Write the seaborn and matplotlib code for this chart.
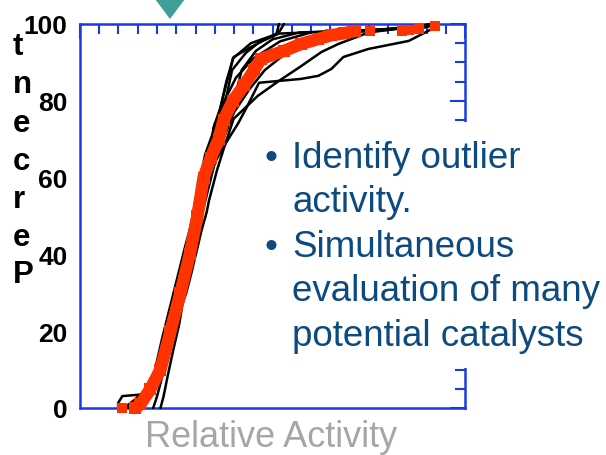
import matplotlib
matplotlib.use("Agg")
import matplotlib.pyplot as plt
import seaborn as sns
import pandas as pd
from matplotlib.ticker import MultipleLocator
from matplotlib.patches import Rectangle, Polygon

# ---------------- data (x: relative activity 0-100, y: percent) ----------------
curve_a_x = [9.9, 9.9, 11.0, 17.0, 18.5, 19.6, 20.2, 21.4, 22.0, 23.4, 24.0, 25.6, 26.0, 27.5, 28.0, 29.8, 30.0, 31.0, 31.3, 32.9, 33.2, 34.2, 34.7, 36.4, 37.9, 39.0, 39.7, 44.4, 51.4, 62.0, 78.0, 90.0, 92.2]
curve_a_y = [0, 1.3, 3.1, 3.6, 5.5, 7.5, 10, 13, 18, 21, 26, 29, 34, 37, 42, 45, 50, 53, 58, 61, 65, 68, 73, 78, 84, 88, 91, 95, 97.5, 97.9, 98.5, 99.2, 100]
curve_b_x = [13.5, 15.5, 18.0, 20.5, 21.0, 22.5, 23.8, 24.5, 25.5, 26.5, 27.8, 28.5, 29.6, 30.3, 31.4, 32.0, 33.6, 34.0, 36.5, 39.5, 43.1, 47.0, 51.0, 51.7]
curve_b_y = [0, 3, 6, 10, 14, 18, 23, 26, 31, 34, 39, 42, 47, 50, 55, 58, 62, 65, 74, 88, 92.5, 95.6, 97.4, 100]
curve_c_x = [14.5, 17.5, 19.5, 21.5, 22.2, 23.0, 24.4, 25.0, 26.3, 27.0, 28.3, 29.0, 30.5, 31.0, 32.0, 32.6, 35.2, 38.0, 40.5, 42.0, 45.7, 50.0, 57.0, 70.0, 90.0, 92.2]
curve_c_y = [0, 2, 5, 10, 15, 18, 23, 26, 31, 34, 38, 42, 46, 50, 55, 58, 65, 74, 82, 88, 93, 96, 97.8, 98.2, 99.2, 100]
curve_d_x = [20.9, 21.7, 22.7, 24.2, 25.8, 26.6, 27.6, 28.9, 29.6, 30.8, 31.5, 32.9, 33.5, 35.6, 37.8, 39.9, 46.2, 51.4, 57.4, 62.7, 67.1, 75.0, 92.2]
curve_d_y = [0, 3, 8, 15, 22, 27, 30, 35, 38, 43, 46, 51, 54, 62, 69, 75.3, 81.3, 85, 89, 92.7, 94.8, 97.8, 100]
curve_e_x = [16.0, 18.5, 20.5, 22.5, 24.5, 26.5, 28.3, 30.5, 32.5, 35.0, 38.5, 41.0, 43.1, 46.5, 57.4, 61.9, 65.3, 68.4, 74.9, 85.4, 91.4, 92.2]
curve_e_y = [0, 3, 7, 14, 22, 30, 38, 47, 56, 64, 70, 74, 77.9, 84.7, 85.7, 86.5, 88.3, 91.4, 93.5, 95.6, 98.7, 100]
curve_f_x = [12.5, 15.0, 18.0, 20.0, 21.4, 22.0, 23.6, 24.2, 25.7, 26.3, 27.6, 28.3, 29.4, 30.0, 31.6, 33.5, 36.0, 38.0, 39.9, 44.4, 47.5, 51.4, 53.0]
curve_f_y = [0, 2.5, 6, 10, 15, 18, 23, 26, 31, 34, 39, 42, 47, 50, 58, 66, 76, 85, 91.4, 94, 95.6, 97.4, 100]
curve_g_x = [19.0, 20.0, 21.3, 23.0, 24.8, 26.8, 28.8, 30.8, 32.8, 34.8, 37.2, 40.0, 44.0, 48.0, 53.0, 60.0, 70.0, 80.0, 92.2]
curve_g_y = [0, 3, 8, 15, 23, 31, 39, 47, 55, 63, 70, 77, 83, 88, 92, 95.5, 97.8, 98.5, 100]
curve_h_x = [11.5, 14.0, 17.5, 19.5, 21.3, 23.3, 25.3, 27.3, 28.4, 29.3, 30.2, 30.8, 31.9, 32.5, 34.3, 35.0, 36.9, 37.5, 40.5, 45.0, 52.0, 60.0, 78.0, 92.2]
curve_h_y = [0, 2, 5, 10, 18, 26, 34, 42, 46, 50, 55, 58, 63, 66, 71, 74, 78, 80, 86, 91, 95.5, 97.8, 98.5, 100]

red_band_x = [14.4, 15.7, 18.3, 20.9, 23.5, 26.1, 28.5, 30.5, 32.1, 33.9, 36.0, 37.3, 39.7, 42.6, 45.2, 47.0, 53.0, 57.4, 61.9, 65.3, 68.7, 71.3]
red_band_y = [0, 1, 5, 10, 20, 30, 40, 50, 60, 65, 70, 75, 80, 84, 88, 90.9, 93, 94.8, 96.1, 97.1, 97.6, 98.2]
red_dots_x = [11.0, 75.2, 83.6, 85.4, 88.0, 92.2]
red_dots_y = [0, 98.1, 98.1, 98.5, 98.7, 99.4]

y_ticks = [0, 20, 40, 60, 80, 100]
y_label_word = "Percent"
x_label = "Relative Activity"
bullet_lines = ["Identify outlier", "activity.", "Simultaneous", "evaluation of many", "potential catalysts"]
bullet_starts = [True, False, True, False, False]

# ---------------- style ----------------
sns.set_style("white")
plt.rcParams["font.family"] = ["Liberation Sans", "DejaVu Sans"]

BLUE = "#1a3be0"
RED = "#ff3300"
TEXT_BLUE = "#0d4a80"
GRAY = "#a6a6a6"

W, H = 606, 456
fig = plt.figure(figsize=(W / 100, H / 100), dpi=100)
ax = fig.add_axes([80 / W, 47 / H, 385 / W, 384 / H])

curves = [(curve_a_x, curve_a_y), (curve_b_x, curve_b_y), (curve_c_x, curve_c_y),
          (curve_d_x, curve_d_y), (curve_e_x, curve_e_y), (curve_f_x, curve_f_y),
          (curve_g_x, curve_g_y), (curve_h_x, curve_h_y)]
rows = []
for i, (xs, ys) in enumerate(curves):
    for k, (xv, yv) in enumerate(zip(xs, ys)):
        rows.append({"x": xv, "y": yv, "curve": i, "order": k})
black_df = pd.DataFrame(rows)

sns.lineplot(data=black_df, x="x", y="y", units="curve", estimator=None, sort=False,
             color="black", linewidth=1.8, ax=ax, clip_on=False, zorder=3)

red_df = pd.DataFrame({"x": red_band_x, "y": red_band_y})
sns.lineplot(data=red_df, x="x", y="y", estimator=None, sort=False, color=RED,
             linewidth=9, marker="s", markersize=8, markeredgewidth=0,
             ax=ax, clip_on=False, zorder=4)
dots_df = pd.DataFrame({"x": red_dots_x, "y": red_dots_y})
sns.scatterplot(data=dots_df, x="x", y="y", color=RED, marker="s", s=50,
                linewidth=0, ax=ax, clip_on=False, zorder=4)

ax.set_xlim(0, 100)
ax.set_ylim(0, 100)
ax.set_xlabel("")
ax.set_ylabel("")
ax.xaxis.set_major_locator(MultipleLocator(50))
ax.xaxis.set_minor_locator(MultipleLocator(5))
ax.set_yticks(y_ticks)
ax.yaxis.set_minor_locator(MultipleLocator(5))
ax.set_yticklabels([str(v) for v in y_ticks], fontsize=19, fontweight="bold", color="black")
ax.tick_params(which="both", direction="in", top=True, right=True, color=BLUE, width=1.5,
               labelbottom=False)
ax.tick_params(which="major", length=11, pad=9)
ax.tick_params(which="minor", length=7)
for sp in ax.spines.values():
    sp.set_color(BLUE)
    sp.set_linewidth(1.8)
ax.set_facecolor("white")
ax.grid(False)

# white text panel covering part of the right spine
fig.add_artist(Rectangle((255 / W, (H - 369) / H), (W - 255) / W, 246 / H,
                         transform=fig.transFigure, facecolor="white", edgecolor="none", zorder=10))

baselines = [168, 212.5, 257, 301.5, 346]
for line, is_start, b in zip(bullet_lines, bullet_starts, baselines):
    fig.text(292 / W, (H - b) / H, line, ha="left", va="baseline", fontsize=26.5,
             color=TEXT_BLUE, zorder=11)
    if is_start:
        fig.text(264 / W, (H - b) / H, "\u2022", ha="left", va="baseline", fontsize=26.5,
                 color=TEXT_BLUE, zorder=11)

# stacked y label
letter_baselines = [55, 93, 132, 170, 208, 246, 283]
for ch, b in zip(reversed(y_label_word), letter_baselines):
    fig.text(13 / W, (H - b) / H, ch, ha="left", va="baseline", fontsize=22.5,
             fontweight="bold", color="black")

fig.text(271 / W, (H - 447) / H, x_label, ha="center", va="baseline", fontsize=26, color=GRAY)

# teal marker triangle at top
fig.add_artist(Polygon([(155 / W, 1.0), (185 / W, 1.0), (170 / W, 1 - 20 / H)],
                       closed=True, transform=fig.transFigure, facecolor="#3f9f98",
                       edgecolor="none", zorder=12))

fig.savefig("out.png", dpi=100)
